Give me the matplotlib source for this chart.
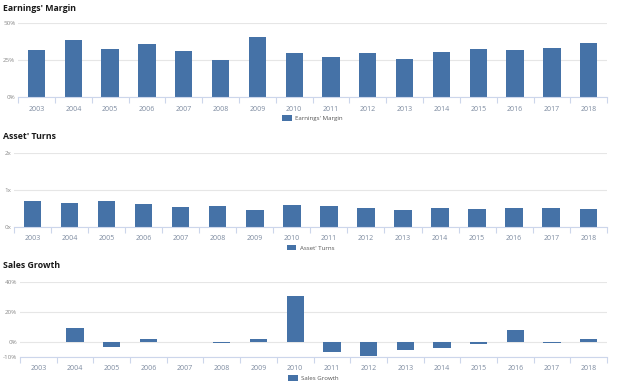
import matplotlib.pyplot as plt
from matplotlib.patches import Patch

years = [str(y) for y in range(2003, 2019)]
earnings_margin = [32.0, 38.9, 32.6, 35.8, 31.5, 25.0, 41.0, 29.9,
                   27.0, 30.0, 25.7, 30.4, 32.4, 32.0, 33.1, 36.5]
asset_turns = [0.69, 0.65, 0.69, 0.63, 0.53, 0.56, 0.45, 0.58,
               0.56, 0.50, 0.46, 0.50, 0.48, 0.52, 0.50, 0.48]
sales_growth = [0.0, 9.3, -3.6, 2.0, 0.0, -0.7, 2.0, 31.0,
                -6.4, -9.3, -5.6, -3.8, -1.6, 7.8, -0.6, 1.8]

bar_color = '#4572a7'
label_color = '#7d8ba0'
axis_color = '#ccd6eb'
grid_color = '#e6e6e6'

plt.rcParams['font.family'] = ['Open Sans', 'DejaVu Sans']


def draw(ax, title, title_y, values, name, yticks, yticklabels, ylim):
    n = len(values)
    ax.bar(range(n), values, width=0.47, color=bar_color, zorder=3)
    ax.set_xlim(-0.5, n - 0.5)
    ax.set_ylim(*ylim)
    ax.set_yticks(yticks)
    ax.set_yticklabels(yticklabels)
    ax.set_xticks(range(n))
    ax.set_xticklabels(years)
    ax.set_xticks([i - 0.5 for i in range(n + 1)], minor=True)
    ax.tick_params(axis='x', which='major', length=0, labelsize=5, colors=label_color, pad=6)
    ax.tick_params(axis='x', which='minor', length=4, width=0.8, color=axis_color)
    ax.tick_params(axis='y', length=0, labelsize=4.5, colors='#8a8a8a', pad=2)
    for t in yticks:
        ax.axhline(t, color=grid_color, lw=0.8, zorder=1)
    for s in ['top', 'right', 'left']:
        ax.spines[s].set_visible(False)
    ax.spines['bottom'].set_color(axis_color)
    ax.spines['bottom'].set_linewidth(0.8)
    ax.spines['bottom'].set_zorder(4)
    handle = Patch(facecolor=bar_color, edgecolor='none')
    ax.legend([handle], [name], loc='upper center', bbox_to_anchor=(0.5, -0.17),
              frameon=False, fontsize=4.4, handlelength=1.6, handleheight=1.0,
              handletextpad=0.5, labelcolor='#555555')
    ax.figure.text(0.005, title_y, title, fontsize=6.3, fontweight='bold',
                   color='#1a1a1a', va='top')


fig = plt.figure(figsize=(6.24, 3.87), dpi=100)

ax1 = fig.add_axes([0.029, 0.7486, 0.944, 0.1912])
draw(ax1, "Earnings' Margin", 0.99, earnings_margin, "Earnings' Margin",
     [0, 25, 50], ['0%', '25%', '50%'], (0, 50))

ax2 = fig.add_axes([0.0224, 0.4142, 0.950, 0.1897])
draw(ax2, "Asset' Turns", 0.66, asset_turns, "Asset' Turns",
     [0, 1, 2], ['0x', '1x', '2x'], (0, 2))

ax3 = fig.add_axes([0.032, 0.0775, 0.941, 0.1938])
draw(ax3, "Sales Growth", 0.325, sales_growth, "Sales Growth",
     [-10, 0, 20, 40], ['-10%', '0%', '20%', '40%'], (-10, 40))

fig.savefig('out.png', dpi=100)
